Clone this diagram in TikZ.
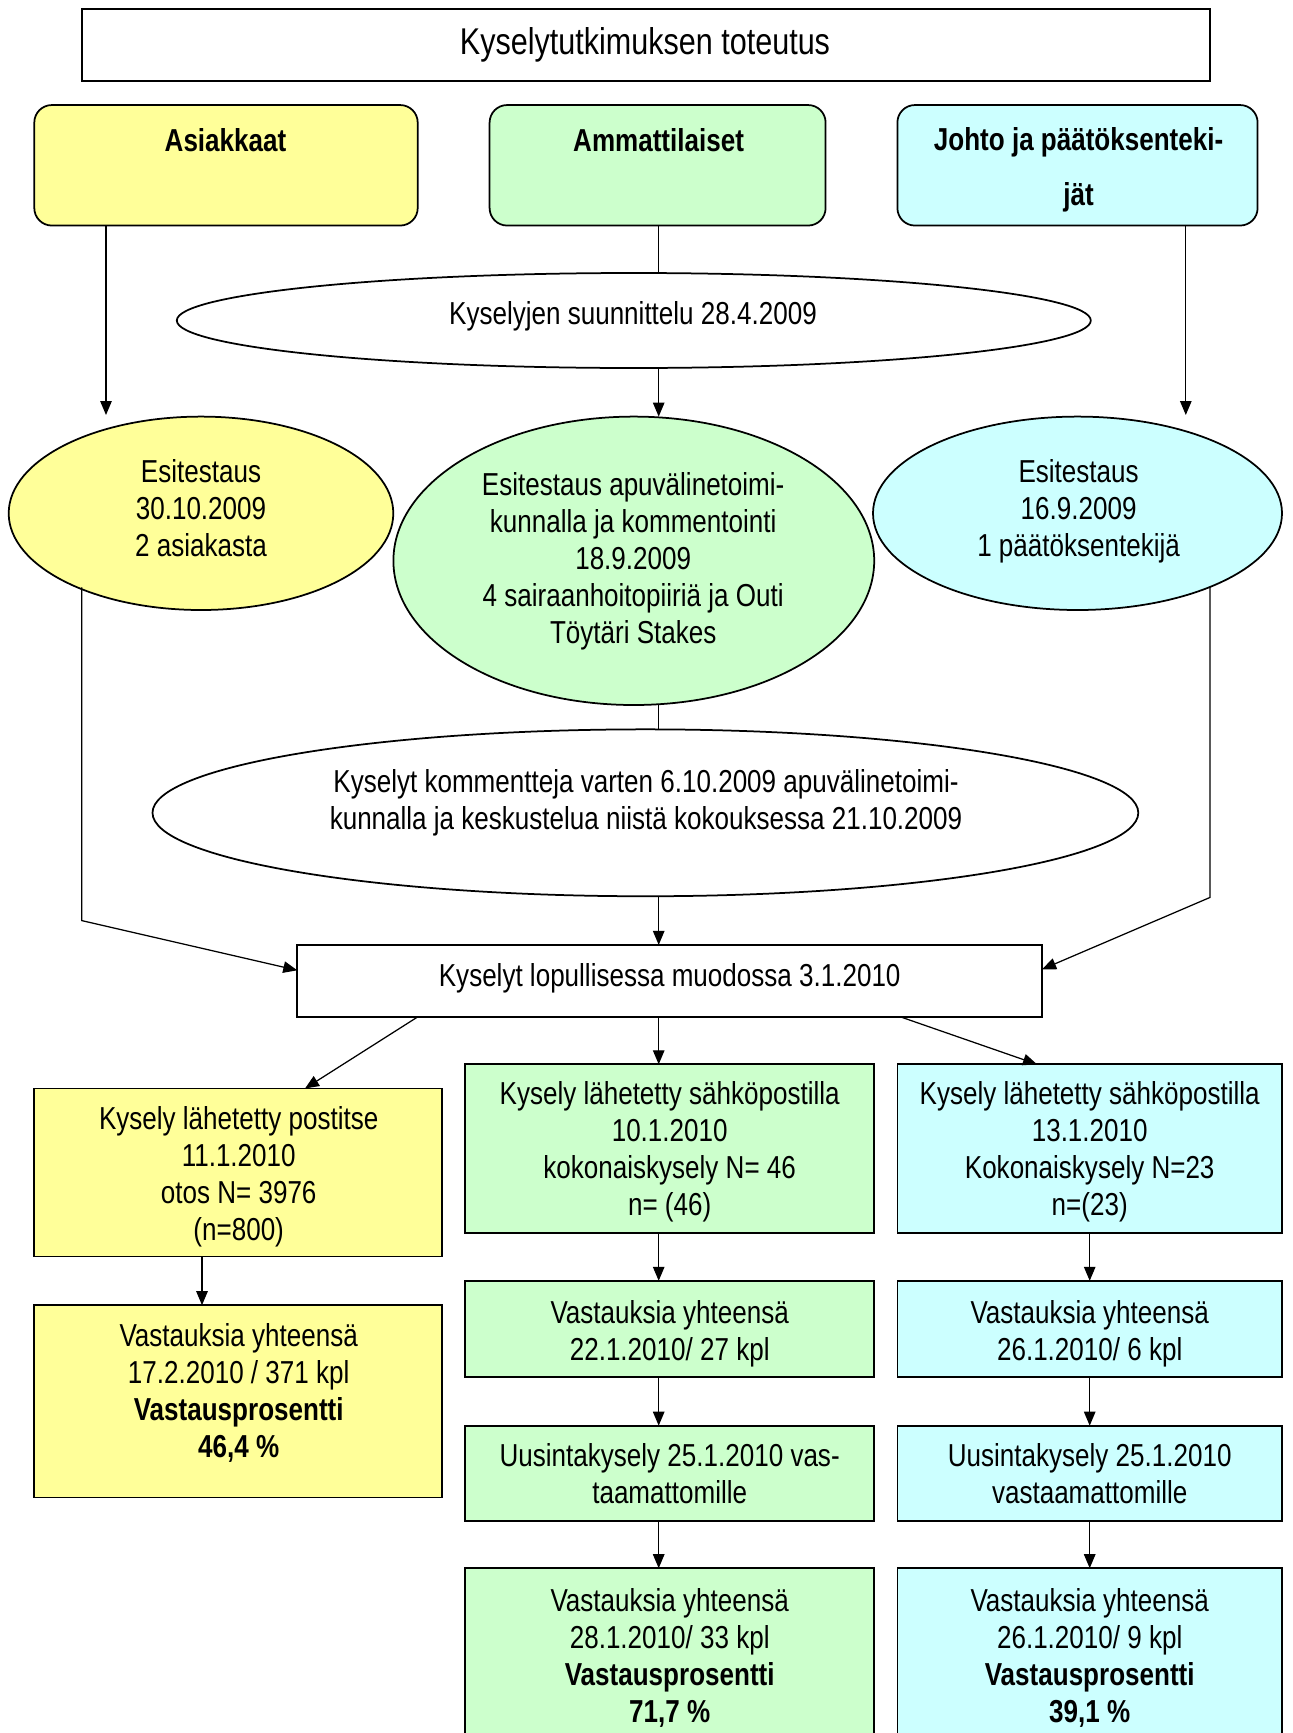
\documentclass[tikz,border=0pt]{standalone}
\usepackage{fontspec}
\setmainfont[FakeStretch=0.82]{Liberation Sans}
\usetikzlibrary{shapes.geometric,arrows.meta,calc}
\definecolor{yel}{HTML}{FFFF99}
\definecolor{grn}{HTML}{CCFFCC}
\definecolor{cyn}{HTML}{CCFFFF}

\begin{document}
\begin{tikzpicture}[x=0.4pt,y=-0.4pt,
  every node/.style={inner sep=0pt, outer sep=0pt},
  wh/.style 2 args={minimum width=#1*0.4pt, minimum height=#2*0.4pt},
  txt/.style={align=center, font=\fontsize{12.7}{14.8}\selectfont},
  headtxt/.style={align=center, font=\fontsize{12.7}{21.7}\selectfont\bfseries},
  boxr/.style={draw, line width=0.7pt, rectangle},
  head/.style={draw, line width=0.7pt, rounded corners=7pt, rectangle},
  oval/.style={draw, line width=0.7pt, ellipse},
  ln/.style={line width=0.5pt},
  arr/.style={line width=0.5pt, -{Triangle[length=5.6pt,width=4.6pt]}}]

\useasboundingbox (0,0) rectangle (1293,1733);
\clip (0,0) rectangle (1293,1733);

% title
\node[boxr, wh={1128}{72}] (title) at (646,44.7) {};
\node[align=center, font=\fontsize{14.9}{17}\selectfont] (ttitle) at (645,45.3) {Kyselytutkimuksen toteutus};

% three group headings
\node[head, fill=yel, wh={383.4}{120.5}] (hA) at (226,165.3) {};
\node[head, fill=grn, wh={336}{120.5}] (hB) at (657.6,165.3) {};
\node[head, fill=cyn, wh={360.2}{120.5}] (hC) at (1077.5,165.3) {};
\node[headtxt] (thA) at (225.5,140) {Asiakkaat};
\node[headtxt] (thB) at (658.6,140) {Ammattilaiset};
\node[headtxt] (thC) at (1078.6,169.8) {Johto ja päätöksenteki-\\jät};

% planning
\node[oval, wh={914}{95}] (plan) at (633.8,320.5) {};
\node[txt] (tplan) at (633,316.3) {Kyselyjen suunnittelu 28.4.2009};

% pretests
\node[oval, fill=yel, wh={384.6}{193.4}] (eL) at (201,513.3) {};
\node[oval, fill=grn, wh={480.8}{288.4}] (eM) at (633.8,560.8) {};
\node[oval, fill=cyn, wh={409}{193.4}] (eR) at (1077.5,513.3) {};
\node[txt] (teL) at (201,508.4) {Esitestaus\\30.10.2009\\2 asiakasta};
\node[txt] (teM) at (633.2,561.2) {Esitestaus apuvälinetoimi-\\kunnalla ja kommentointi\\18.9.2009\\4 sairaanhoitopiiriä ja Outi\\Töytäri Stakes};
\node[txt] (teR) at (1078.6,511.7) {Esitestaus\\16.9.2009\\1 päätöksentekijä};

% comments round
\node[oval, wh={985.8}{166.9}] (comm) at (645.4,812.8) {};
\node[txt] (tcomm) at (646,802.3) {Kyselyt kommentteja varten 6.10.2009 apuvälinetoimi-\\kunnalla ja keskustelua niistä kokouksessa 21.10.2009};

% final form
\node[boxr, wh={744.8}{71.8}] (final) at (669.7,980.8) {};
\node[txt] (tfinal) at (669.7,978) {Kyselyt lopullisessa muodossa 3.1.2010};

% customers column
\node[boxr, fill=yel, wh={407.8}{168}] (y1) at (238.2,1172.5) {};
\node[boxr, fill=yel, wh={407.8}{192.3}] (y2) at (238.2,1401.3) {};
\node[txt] (ty1) at (238.7,1176.8) {Kysely lähetetty postitse\\11.1.2010\\otos N= 3976\\(n=800)};
\node[txt] (ty2) at (238.7,1392.5) {Vastauksia yhteensä\\17.2.2010 / 371 kpl\\\textbf{Vastausprosentti}\\\textbf{46,4 \%}};

% professionals column
\node[boxr, fill=grn, wh={408.9}{169}] (g1) at (669.7,1148.8) {};
\node[boxr, fill=grn, wh={408.9}{96.2}] (g2) at (669.7,1328.9) {};
\node[boxr, fill=grn, wh={408.9}{95.1}] (g3) at (669.7,1473.2) {};
\node[boxr, fill=grn, wh={408.9}{172}] (g4) at (669.7,1654.2) {};
\node[txt] (tg1) at (669.7,1151.5) {Kysely lähetetty sähköpostilla\\10.1.2010\\kokonaiskysely N= 46\\n= (46)};
\node[txt] (tg2) at (669.7,1333.3) {Vastauksia yhteensä\\22.1.2010/ 27 kpl};
\node[txt] (tg3) at (669.7,1473.7) {Uusintakysely 25.1.2010 vas-\\taamattomille};
\node[txt] (tg4) at (669.7,1657.7) {Vastauksia yhteensä\\28.1.2010/ 33 kpl\\\textbf{Vastausprosentti}\\\textbf{71,7 \%}};

% management column
\node[boxr, fill=cyn, wh={384.6}{169}] (c1) at (1089.7,1148.8) {};
\node[boxr, fill=cyn, wh={384.6}{96.2}] (c2) at (1089.7,1328.9) {};
\node[boxr, fill=cyn, wh={384.6}{95.1}] (c3) at (1089.7,1473.2) {};
\node[boxr, fill=cyn, wh={384.6}{172}] (c4) at (1089.7,1654.2) {};
\node[txt] (tc1) at (1089.7,1151.5) {Kysely lähetetty sähköpostilla\\13.1.2010\\Kokonaiskysely N=23\\n=(23)};
\node[txt] (tc2) at (1089.7,1333.3) {Vastauksia yhteensä\\26.1.2010/ 6 kpl};
\node[txt] (tc3) at (1089.7,1473.7) {Uusintakysely 25.1.2010\\vastaamattomille};
\node[txt] (tc4) at (1089.7,1657.7) {Vastauksia yhteensä\\26.1.2010/ 9 kpl\\\textbf{Vastausprosentti}\\\textbf{39,1 \%}};

% helper coordinates for connector routes
\coordinate (colL) at (106,415);
\coordinate (colM) at (658.7,0);
\coordinate (colR) at (1185.8,415);
\coordinate (cornL) at (81.8,920.6);
\coordinate (cornR) at (1210.1,897.4);
\coordinate (outL) at (418,0);
\coordinate (inL) at (305,0);
\coordinate (outR) at (900,0);
\coordinate (inR) at (1037,0);
\coordinate (colY) at (202,0);

% connectors, top part
\draw[arr] (hA.south -| colL) -- (colL);
\draw[arr] (hC.south -| colR) -- (colR);
\draw[ln] (hB.south -| colM) -- (plan.north -| colM);
\draw[arr] (plan.south -| colM) -- (eM.north -| colM);
\draw[ln] (eM.south -| colM) -- (comm.north -| colM);
\draw[arr] (comm.south -| colM) -- (final.north -| colM);
\draw[arr] (eL.211.5 -| cornL) -- (cornL) -- ($(final.west)+(0,-10.5)$);
\draw[arr] (eR.331 -| cornR) -- (cornR) -- ($(final.east)+(0,-11.5)$);

% connectors, bottom part
\draw[arr] (final.south -| outL) -- (y1.north -| inL);
\draw[arr] (final.south -| colM) -- (g1.north -| colM);
\draw[arr] (final.south -| outR) -- (c1.north -| inR);
\draw[arr] (y1.south -| colY) -- (y2.north -| colY);
\draw[arr] (g1.south -| colM) -- (g2.north -| colM);
\draw[arr] (g2.south -| colM) -- (g3.north -| colM);
\draw[arr] (g3.south -| colM) -- (g4.north -| colM);
\draw[arr] (c1.south) -- (c2.north);
\draw[arr] (c2.south) -- (c3.north);
\draw[arr] (c3.south) -- (c4.north);
\end{tikzpicture}
\end{document}
